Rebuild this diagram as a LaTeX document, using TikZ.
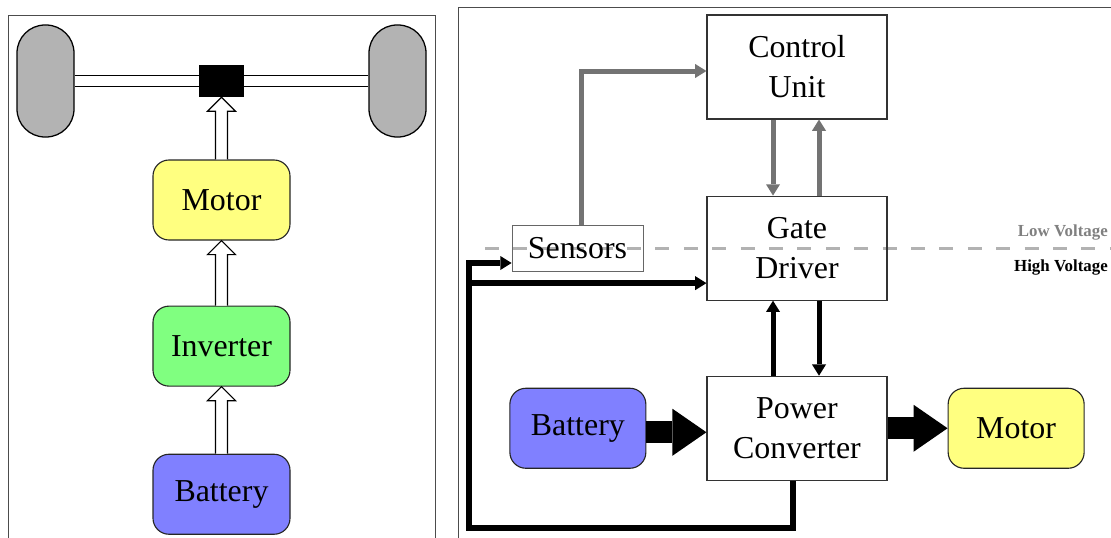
\documentclass[tikz,border=0pt]{standalone}
\usepackage{fontspec}
\setmainfont{Liberation Serif}
\usetikzlibrary{arrows.meta,positioning,calc}

\definecolor{motoryellow}{RGB}{255,255,128}
\definecolor{invgreen}{RGB}{128,255,128}
\definecolor{battblue}{RGB}{128,128,255}
\definecolor{tiregray}{RGB}{179,179,179}
\newcommand{\boxfont}{\fontsize{22.7}{28.4}\selectfont}
\newcommand{\tagfont}{\fontsize{12}{14}\selectfont\bfseries}

% hollow arrow from the top of #1 up to the bottom of #2
\newcommand{\hollowup}[2]{%
  \draw[hollow] let \p1=(#1.north), \p2=(#2.south) in
    (\x1-0.15cm,\y1) -- (\x1-0.15cm,\y2-0.35cm) -- (\x1-0.35cm,\y2-0.35cm) -- (\x1,\y2)
    -- (\x1+0.35cm,\y2-0.35cm) -- (\x1+0.15cm,\y2-0.35cm) -- (\x1+0.15cm,\y1);}

\begin{document}
\begin{tikzpicture}[
    every node/.style={inner sep=0pt},
    tire/.style={draw, line width=0.9pt, fill=tiregray, rounded corners=0.7cm, minimum width=1.425cm, minimum height=2.8cm},
    axle/.style={draw, line width=0.8pt, double, double distance=0.235cm},
    unit/.style={draw=black!85, line width=0.8pt, rounded corners=0.4cm, minimum width=3.425cm, minimum height=2cm, font=\boxfont},
    block/.style={draw=black!80, line width=0.8pt, minimum width=4.5cm, minimum height=2.6cm, align=center, font=\boxfont},
    hollow/.style={draw, line width=0.8pt, fill=white},
    ctrl/.style={draw=black!55, line width=0.125cm, -{Triangle[width=0.35cm,length=0.28cm,line width=0pt]}},
    power/.style={draw=black, line width=0.125cm, -{Triangle[width=0.35cm,length=0.28cm,line width=0pt]}},
    fb/.style={draw=black, line width=0.14cm, -{Triangle[width=0.35cm,length=0.28cm,line width=0pt]}},
    bigflow/.style={draw=black, line width=0.55cm, -{Triangle[width=1.175cm,length=0.85cm,line width=0pt]}},
    vsplit/.style={draw=black!30, line width=0.075cm, dash pattern=on 0.35cm off 0.36cm},
]
\useasboundingbox (0,0) rectangle (27.775,-13.425);

% panels
\draw[black!70, line width=0.6pt] (0.2,-13.6) -- (0.2,-0.375) -- (10.875,-0.375) -- (10.875,-13.6);
\draw[black!70, line width=0.6pt] (11.45,-13.6) -- (11.45,-0.175) -- (28,-0.175);

% left: drivetrain
\node[tire] (ltire) at (1.1375,-2.025) {};
\node[tire] (rtire) at (9.9375,-2.025) {};
\node[fill=black, minimum width=1.125cm, minimum height=0.8cm] (diff) at (5.5375,-2.025) {};
\draw[axle] (ltire) -- (diff);
\draw[axle] (diff) -- (rtire);

\node[unit, fill=motoryellow] (motor) at (5.5375,-5) {Motor};
\node[unit, fill=invgreen, below=1.625cm of motor] (inv) {Inverter};
\node[unit, fill=battblue, below=1.675cm of inv] (batt) {Battery};

\hollowup{batt}{inv}
\hollowup{inv}{motor}
\hollowup{motor}{diff}

% right: control structure
\draw[vsplit] (12.125,-6.2) -- (27.775,-6.2);

\node[block] (cu) at (19.925,-1.675) {Control\\Unit};
\node[block, below=1.9cm of cu] (gd) {Gate\\Driver};
\node[block, below=1.875cm of gd] (pc) {Power\\Converter};
\node[draw=black!60, line width=0.6pt, minimum width=3.275cm, minimum height=1.15cm, font=\boxfont] (sens) at (14.4375,-6.2) {Sensors};
\node[unit, fill=battblue, minimum width=3.4cm, left=1.5cm of pc] (battR) {Battery};
\node[unit, fill=motoryellow, minimum width=3.4cm, right=1.5cm of pc] (motorR) {Motor};

\node[anchor=east, font=\tagfont, text=black!50] (lowv) at (27.7,-5.825) {Low Voltage};
\node[anchor=east, font=\tagfont] (highv) at (27.7,-6.7) {High Voltage};

\draw[ctrl] ([xshift=-0.6cm]cu.south) -- ([xshift=-0.6cm]gd.north);
\draw[ctrl] ([xshift=0.55cm]gd.north) -- ([xshift=0.55cm]cu.south);
\draw[ctrl] ([xshift=0.1cm]sens.north) |- ([yshift=-0.1cm]cu.west);
\draw[power] ([xshift=-0.6cm]pc.north) -- ([xshift=-0.6cm]gd.south);
\draw[power] ([xshift=0.55cm]gd.south) -- ([xshift=0.55cm]pc.north);
\draw[bigflow] ([yshift=-0.1cm]battR.east) -- ([yshift=-0.1cm]pc.west);
\draw[bigflow] (pc) -- (motorR);

% feedback from the converter
\coordinate (fbcorner) at (11.725,-13.2);
\coordinate (gdin) at ([yshift=-0.875cm]gd.west);
\draw[fb] ([xshift=-0.1cm]pc.south) |- (fbcorner) |- ([yshift=-0.375cm]sens.west);
\draw[fb] (fbcorner |- gdin) -- (gdin);
\end{tikzpicture}
\end{document}
